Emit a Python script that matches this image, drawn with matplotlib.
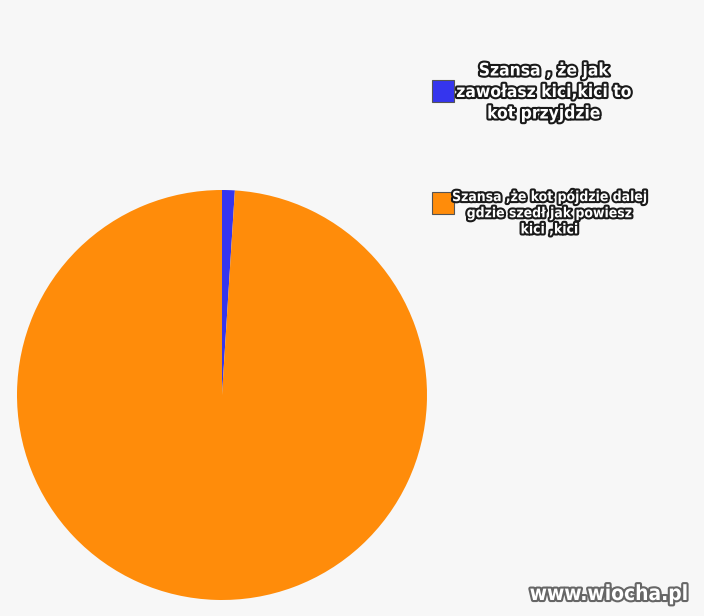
import matplotlib.pyplot as plt
import matplotlib.patheffects as pe
from matplotlib.patches import Rectangle

labels = ['Szansa , że jak\nzawołasz kici,kici to\nkot przyjdzie',
          'Szansa ,że kot pójdzie dalej\ngdzie szedł jak powiesz\nkici ,kici']
values = [1, 99]
colors = ['#3535ee', '#ff8c0a']

W, H = 704, 616
fig = plt.figure(figsize=(W / 100, H / 100), dpi=100)
fig.patch.set_facecolor('#f7f7f7')

ax = fig.add_axes([17 / W, 16 / H, 410 / W, 410 / H])
ax.pie(values, colors=colors, startangle=90, counterclock=False,
       wedgeprops={'linewidth': 0})
ax.set_xlim(-1, 1)
ax.set_ylim(-1, 1)
ax.set_aspect('equal')

outline = [pe.withStroke(linewidth=3, foreground='#1a1a1a')]

# legend drawn by hand, positions in pixels from top-left
leg = [
    {'box': (432, 80), 'text': (544, 92), 'size': 12.5, 'ls': 1.25},
    {'box': (432, 192), 'text': (549, 213), 'size': 10, 'ls': 1.2},
]
for lab, col, p in zip(labels, colors, leg):
    bx, by = p['box']
    fig.add_artist(Rectangle((bx / W, 1 - (by + 22) / H), 22 / W, 22 / H,
                             transform=fig.transFigure, facecolor=col,
                             edgecolor='#555555', linewidth=0.8))
    tx, ty = p['text']
    fig.text(tx / W, 1 - ty / H, lab, ha='center', va='center',
             fontsize=p['size'], color='white', fontweight='bold',
             fontstretch='condensed', linespacing=p['ls'],
             path_effects=outline)

fig.text(609 / W, 1 - 594 / H, 'www.wiocha.pl', ha='center', va='center',
         fontsize=15, color='white', fontweight='bold',
         fontstretch='condensed',
         path_effects=[pe.withStroke(linewidth=3, foreground='#666666')])

fig.savefig('out.png', dpi=100, facecolor=fig.get_facecolor())
